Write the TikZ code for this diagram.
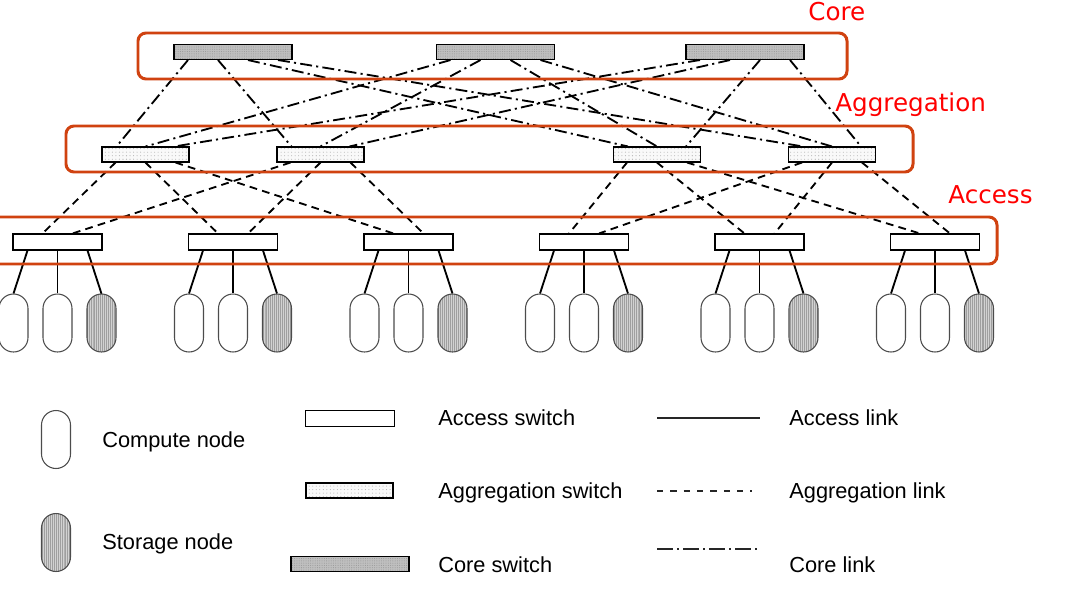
\documentclass[tikz,border=0pt]{standalone}
\usepackage{fontspec}
\setmainfont{Liberation Sans}
\newfontfamily\labelfont{DejaVu Sans}
\usepackage{tikz}
\usetikzlibrary{calc,patterns.meta}
\definecolor{layerred}{RGB}{208,66,16}
\definecolor{labelred}{RGB}{255,0,0}

\begin{document}
\begin{tikzpicture}
[x=0.02cm,y=-0.02cm,every node/.style={inner sep=0pt},
 coresw/.style={draw,line width=0.6pt,minimum width=2.36cm,minimum height=0.3cm,
   preaction={fill=gray!50},pattern={Dots[distance=1.3pt,radius=0.3pt]},pattern color=gray!80},
 aggsw/.style={draw,line width=0.6pt,minimum width=1.74cm,minimum height=0.3cm,
   preaction={fill=gray!5},pattern={Dots[distance=2pt,radius=0.3pt]},pattern color=gray!60},
 accsw/.style={draw,line width=0.6pt,fill=white,minimum width=1.78cm,minimum height=0.32cm},
 host/.style={draw=gray!60!black,line width=0.6pt,fill=white,rounded corners=0.29cm,
   minimum width=0.58cm,minimum height=1.16cm},
 store/.style={preaction={fill=gray!35},pattern={Lines[angle=90,distance=1.1pt,line width=0.3pt]},
   pattern color=gray!75},
 acclink/.style={line width=1.05pt},
 agglink/.style={line width=1.05pt,dash pattern=on 4.4pt off 3pt},
 corelink/.style={line width=1.05pt,dash pattern=on 6.8pt off 2.4pt on 1.2pt off 2.4pt},
 legline/.style={line width=0.7pt,gray!30!black},
 layerbox/.style={draw=layerred,line width=1.7pt,rounded corners=0.16cm},
 layerlabel/.style={text=labelred,font=\labelfont\fontsize{14}{16}\selectfont,anchor=base west},
 legtext/.style={font=\fontsize{12.4}{15}\selectfont,anchor=base west}]
\useasboundingbox (0,0) rectangle (1082,602);

% switches
\node[coresw] (c1) at (233,52) {};
\node[coresw] (c2) at (495.5,52) {};
\node[coresw] (c3) at (745,52) {};
\node[aggsw] (g1) at (145.5,154.5) {};
\node[aggsw] (g2) at (320.5,154.5) {};
\node[aggsw] (g3) at (657,154.5) {};
\node[aggsw] (g4) at (832,154.5) {};
\foreach \k in {1,...,6}
{
\node[accsw] (a\k) at ({57.5+175.5*(\k-1)},242) {};
\node[host] (h\k1) at ({13.5+175.5*(\k-1)},323) {};
\node[host] (h\k2) at ({57.5+175.5*(\k-1)},323) {};
\node[host,store] (h\k3) at ({101.5+175.5*(\k-1)},323) {};
\draw[acclink] ($(a\k.south)+(-30,0)$) -- (h\k1.north);
\draw[acclink] (a\k.south) -- (h\k2.north);
\draw[acclink] ($(a\k.south)+(30,0)$) -- (h\k3.north);
}

% links
\foreach \a/\gl/\gr/\off in {a1/g1/g2/-30,a2/g1/g2/0,a3/g1/g2/30,a4/g3/g4/-30,a5/g3/g4/0,a6/g3/g4/30}
{
\draw[agglink] ($(\gl.south)+(\off,0)$) -- ($(\a.north)+(-15,0)$);
\draw[agglink] ($(\gr.south)+(\off,0)$) -- ($(\a.north)+(15,0)$);
}
\foreach \i in {1,2,3}
\foreach \j in {1,...,4}
\draw[corelink] ($(c\i.south)+({(\j-2.5)*30},0)$) -- ($(g\j.north)+({(\i-2)*29},0)$);

% layers
\draw[layerbox] (138,33) rectangle (847,79);
\draw[layerbox] (66,126) rectangle (913,172);
\draw[layerbox] (-10,217) rectangle (997,264);
\node[layerlabel] (lcore) at (808,20) {Core};
\node[layerlabel] (lagg) at (835,111) {Aggregation};
\node[layerlabel] (lacc) at (948,203) {Access};

% legend
\node[host] (kcomp) at (56,439.5) {};
\node[legtext] (tcomp) at (102,447) {Compute node};
\node[host,store] (kstor) at (56,542.5) {};
\node[legtext] (tstor) at (102,549) {Storage node};
\node[accsw,line width=0.5pt] (kacc) at (349.5,418) {};
\node[legtext] (tacc) at (438,425) {Access switch};
\node[aggsw] (kagg) at (349.5,490.5) {};
\node[legtext] (tagg) at (438,498) {Aggregation switch};
\node[coresw] (kcore) at (350,564) {};
\node[legtext] (tcore) at (438,572) {Core switch};
\coordinate (la1) at (657,418); \coordinate (la2) at (760,418);
\coordinate (lg1) at (657,491); \coordinate (lg2) at (752,491);
\coordinate (lc1) at (657,549); \coordinate (lc2) at (760,549);
\draw[legline] (la1) -- (la2);
\draw[legline,dash pattern=on 3.6pt off 4pt] (lg1) -- (lg2);
\draw[legline,dash pattern=on 9pt off 2.4pt on 1pt off 2.4pt] (lc1) -- (lc2);
\node[legtext] (tal) at (789,425) {Access link};
\node[legtext] (tgl) at (789,498) {Aggregation link};
\node[legtext] (tcl) at (789,572) {Core link};

\end{tikzpicture}
\end{document}
